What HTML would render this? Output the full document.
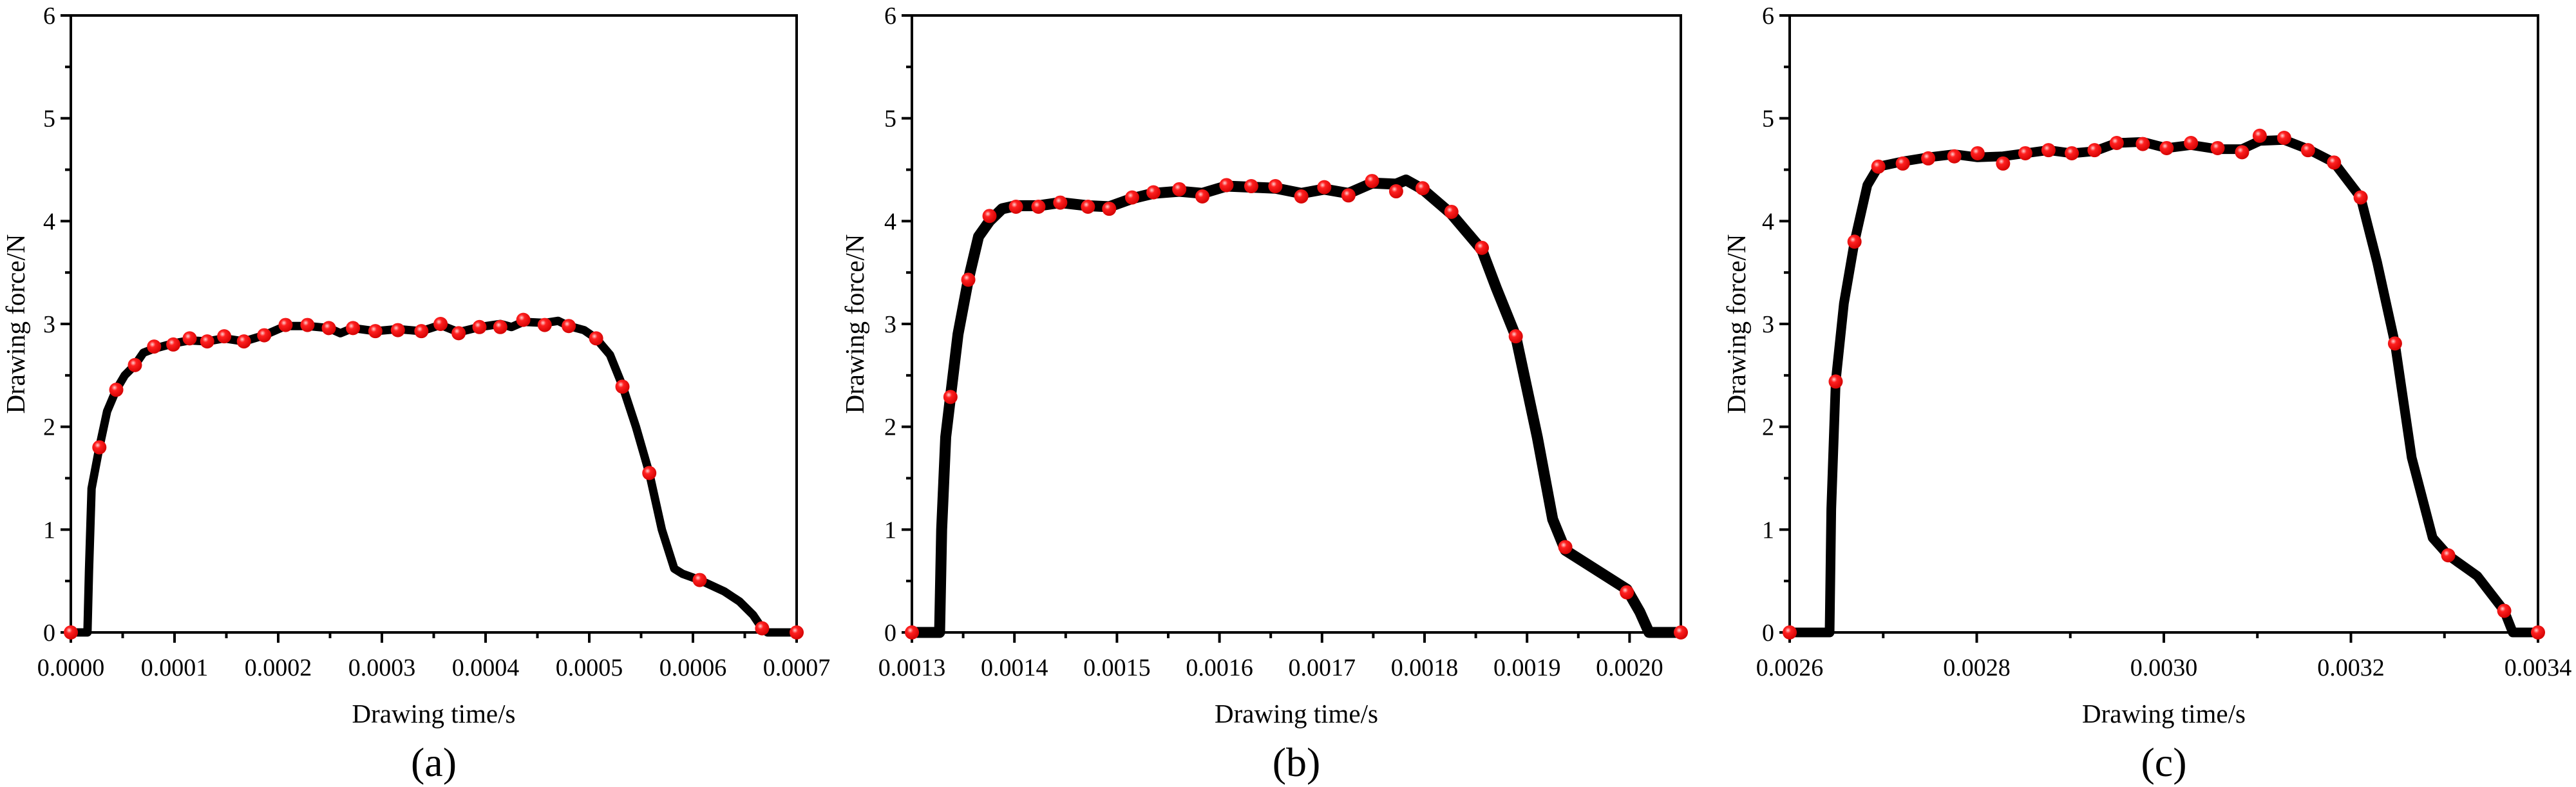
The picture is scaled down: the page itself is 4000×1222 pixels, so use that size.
<!DOCTYPE html>
<html><head><meta charset="utf-8"><style>
html,body{margin:0;padding:0;background:#fff;}
svg{display:block;}
svg text{font-family:"Liberation Serif","DejaVu Serif",serif !important;}
</style></head><body>
<svg id="chart" width="4000" height="1222" viewBox="0 0 4000 1222" xmlns="http://www.w3.org/2000/svg">
<defs><radialGradient id="ball" cx="0.38" cy="0.35" r="0.7"><stop offset="0" stop-color="#ffd0d0"/><stop offset="0.3" stop-color="#ff2020"/><stop offset="1" stop-color="#d00000"/></radialGradient></defs>
</svg>
<script>
// Panel (a) data
const aMarkT=[0,2.75e-5,4.38e-5,6.18e-5,8.03e-5,9.88e-5,1.146e-4,1.315e-4,1.479e-4,1.669e-4,1.865e-4,2.071e-4,2.282e-4,2.488e-4,2.721e-4,2.937e-4,3.154e-4,3.381e-4,3.566e-4,3.740e-4,3.941e-4,4.142e-4,4.364e-4,4.570e-4,4.802e-4,5.066e-4,5.320e-4,5.579e-4,6.065e-4,6.667e-4,7.0e-4];
const aMarkF=[0,1.80,2.36,2.60,2.78,2.80,2.86,2.83,2.88,2.83,2.89,2.99,2.99,2.96,2.96,2.93,2.94,2.93,3.00,2.91,2.97,2.97,3.04,2.99,2.98,2.86,2.39,1.55,0.51,0.04,0];
const aLineT=[0,1.6e-5,1.75e-5,2.0e-5,2.75e-5,3.5e-5,4.38e-5,5.2e-5,6.18e-5,7.0e-5,8.03e-5,9.88e-5,1.146e-4,1.315e-4,1.479e-4,1.669e-4,1.865e-4,2.071e-4,2.282e-4,2.488e-4,2.6e-4,2.721e-4,2.937e-4,3.154e-4,3.381e-4,3.566e-4,3.740e-4,3.941e-4,4.142e-4,4.25e-4,4.364e-4,4.570e-4,4.7e-4,4.802e-4,4.95e-4,5.066e-4,5.2e-4,5.320e-4,5.45e-4,5.579e-4,5.7e-4,5.82e-4,5.9e-4,6.065e-4,6.3e-4,6.45e-4,6.58e-4,6.667e-4,6.72e-4,7.0e-4];
const aLineF=[0,0,0.6,1.4,1.80,2.15,2.36,2.50,2.60,2.72,2.76,2.81,2.84,2.83,2.86,2.83,2.89,2.98,2.98,2.96,2.91,2.96,2.93,2.95,2.93,2.99,2.92,2.97,3.0,2.97,3.02,3.01,3.03,2.98,2.94,2.86,2.7,2.40,2.0,1.55,1.0,0.62,0.57,0.51,0.40,0.30,0.17,0.04,0,0];
// Panel (b) data
const bMarkT=[0.0013,0.0013376,0.001355,0.0013757,0.0014015,0.0014234,0.0014447,0.0014717,0.0014924,0.0015148,0.0015356,0.0015608,0.0015833,0.0016068,0.001631,0.0016545,0.0016798,0.0017022,0.0017258,0.0017488,0.0017723,0.0017981,0.0018262,0.0018559,0.001889,0.0019373,0.0019973,0.00205];
const bMarkF=[0,2.29,3.43,4.05,4.14,4.14,4.18,4.14,4.12,4.23,4.28,4.31,4.24,4.35,4.34,4.34,4.24,4.33,4.25,4.39,4.29,4.32,4.09,3.74,2.88,0.83,0.39,0];
const bLineT=[0.0013,0.001327,0.001329,0.001333,0.0013376,0.001345,0.001355,0.001365,0.0013757,0.001388,0.0014015,0.0014234,0.0014447,0.0014717,0.0014924,0.0015148,0.0015356,0.0015608,0.0015833,0.0016068,0.001631,0.0016545,0.0016798,0.0017022,0.0017258,0.0017488,0.0017723,0.001782,0.0017981,0.0018262,0.0018559,0.00187,0.001889,0.00191,0.001925,0.0019373,0.0019973,0.00201,0.002019,0.00205];
const bLineF=[0,0,1.0,1.9,2.29,2.9,3.43,3.85,4.0,4.12,4.15,4.15,4.18,4.15,4.14,4.22,4.27,4.29,4.27,4.34,4.33,4.32,4.27,4.31,4.27,4.37,4.36,4.40,4.31,4.07,3.72,3.35,2.88,1.9,1.1,0.80,0.42,0.2,0,0];
// Panel (c) data
const cMarkT=[0.0026,0.0026492,0.0026693,0.0026948,0.0027209,0.0027481,0.002776,0.0028009,0.0028281,0.0028519,0.0028767,0.0029016,0.0029259,0.0029496,0.0029775,0.003003,0.003029,0.0030575,0.0030836,0.0031025,0.0031286,0.0031541,0.0031819,0.0032104,0.0032471,0.003304,0.0033639,0.0034];
const cMarkF=[0,2.44,3.80,4.53,4.56,4.61,4.63,4.66,4.56,4.66,4.69,4.66,4.69,4.76,4.75,4.71,4.76,4.71,4.67,4.83,4.81,4.69,4.57,4.23,2.81,0.75,0.21,0];
const cLineT=[0.0026,0.0026427,0.0026445,0.0026492,0.002658,0.0026693,0.002683,0.0026948,0.0027209,0.0027481,0.002776,0.0028009,0.0028281,0.0028519,0.0028767,0.0029016,0.0029259,0.0029496,0.0029775,0.003003,0.003029,0.0030575,0.0030836,0.0031025,0.0031286,0.0031541,0.0031819,0.0032104,0.003228,0.0032471,0.003265,0.0032874,0.003304,0.003335,0.0033639,0.003373,0.0034];
const cLineF=[0,0,1.2,2.44,3.2,3.80,4.35,4.53,4.58,4.62,4.65,4.62,4.63,4.66,4.69,4.66,4.68,4.76,4.77,4.71,4.74,4.70,4.70,4.78,4.79,4.70,4.57,4.23,3.6,2.81,1.7,0.92,0.75,0.55,0.21,0,0];

const yTicks=[0,1,2,3,4,5,6];
const aTicks=[0,0.0001,0.0002,0.0003,0.0004,0.0005,0.0006,0.0007];
const bTicks=[0.0013,0.0014,0.0015,0.0016,0.0017,0.0018,0.0019,0.0020];
const cTicks=[0.0026,0.0028,0.0030,0.0032,0.0034];

const svg=document.getElementById('chart');
const NS='http://www.w3.org/2000/svg';
function mk(tag,attrs,parent){const e=document.createElementNS(NS,tag);for(const k in attrs)e.setAttribute(k,attrs[k]);if(tag==='text')e.setAttribute('style','font-family:"Liberation Serif","DejaVu Serif",serif;font-size:'+attrs['font-size']+'px');(parent||svg).appendChild(e);return e;}

const TOP=24,BOT=982;
function panel(id,L,R,xmin,xmax,ticks,minorStep,lineT,lineF,markT,markF,sw,label,ytitleX){
  const g=mk('g',{});
  
  
  const xs=t=>L+(t-xmin)/(xmax-xmin)*(R-L);
  const ys=f=>BOT-f/6*(BOT-TOP);
  let d='';
  for(let i=0;i<lineT.length;i++)d+=(i?'L':'M')+xs(lineT[i]).toFixed(1)+' '+ys(lineF[i]).toFixed(1);
  const p=mk('path',{d:d,fill:'none',stroke:'#000','stroke-width':sw,'stroke-linejoin':'round','stroke-linecap':'round'},g);
  
  
  const fr=mk('rect',{x:L,y:TOP,width:R-L,height:BOT-TOP,fill:'none',stroke:'#000','stroke-width':4},g);
  
  
  for(let v=0;v<=6.001;v+=0.5){
    const major=Math.abs(v-Math.round(v))<1e-6;
    mk('line',{x1:L-(major?16:9),x2:L,y1:ys(v),y2:ys(v),stroke:'#000','stroke-width':4},g);
  }
  yTicks.forEach(v=>{
    const t=mk('text',{x:L-24,y:ys(v)+13,'font-size':38,'text-anchor':'end'},g);
    t.textContent=String(v);
    
    
  });
  for(let v=xmin;v<=xmax+1e-9;v+=minorStep){
    const major=ticks.some(t=>Math.abs(t-v)<1e-9);
    mk('line',{x1:xs(v),x2:xs(v),y1:BOT,y2:BOT+(major?16:9),stroke:'#000','stroke-width':4},g);
  }
  ticks.forEach(v=>{
    const t=mk('text',{x:xs(v),y:BOT+67,'font-size':38,'text-anchor':'middle'},g);
    t.textContent=v.toFixed(4);
    
    
  });
  for(let i=0;i<markT.length;i++){
    const c=mk('circle',{cx:xs(markT[i]),cy:ys(markF[i]),r:11,fill:'url(#ball)'},g);
    
    
  }
  const xt=mk('text',{x:(L+R)/2,y:1122,'font-size':41,'text-anchor':'middle'},g);
  xt.textContent='Drawing time/s';
  
  
  const yt=mk('text',{x:ytitleX,y:503,'font-size':41,'text-anchor':'middle',transform:'rotate(-90 '+ytitleX+' 503)'},g);
  yt.textContent='Drawing force/N';
  
  
  const pl=mk('text',{x:(L+R)/2,y:1205,'font-size':64,'text-anchor':'middle'},g);
  pl.textContent='('+label+')';
  
  
}
panel('a',110,1237,0,0.0007,aTicks,0.00005,aLineT,aLineF,aMarkT,aMarkF,13,'a',38);
panel('b',1416,2610,0.0013,0.00205,bTicks,0.00005,bLineT,bLineF,bMarkT,bMarkF,17,'b',1341);
panel('c',2779,3941,0.0026,0.0034,cTicks,0.0001,cLineT,cLineF,cMarkT,cMarkF,15,'c',2710);
</script>
</body></html>
